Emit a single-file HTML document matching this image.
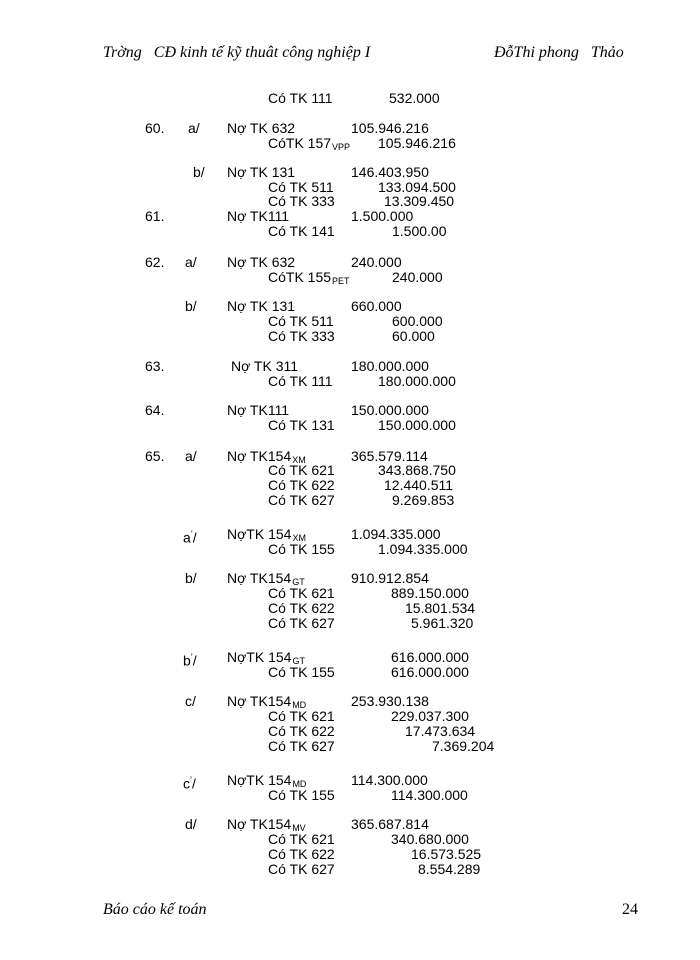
<!DOCTYPE html>
<html><head><meta charset="utf-8"><style>
body{margin:0;width:700px;height:960px;background:#fff;position:relative;overflow:hidden;font-family:"Liberation Sans",sans-serif;font-size:14px;color:#000}
span{position:absolute;line-height:16px;white-space:nowrap}
.h{font-family:"Liberation Serif",serif;font-style:italic;font-size:16px;line-height:18px}
sub{font-size:9px;vertical-align:-2px;margin-left:1px}
</style></head><body>
<span class="h" style="left:103px;top:44px">Trờng &nbsp; CĐ kinh tế kỹ thuât công nghiệp I</span>
<span class="h" style="left:494px;top:44px">ĐỗThi phong &nbsp; Thảo</span>

<span style="left:268px;top:90px">Có TK 111</span><span style="left:389px;top:90px">532.000</span>

<span style="left:145px;top:120px">60.</span><span style="left:188px;top:120px">a/</span><span style="left:227px;top:120px">Nợ TK 632</span><span style="left:351px;top:120px">105.946.216</span>
<span style="left:268px;top:135px">CóTK 157<sub>VPP</sub></span><span style="left:378px;top:135px">105.946.216</span>

<span style="left:193px;top:164px">b/</span><span style="left:227px;top:164px">Nợ TK 131</span><span style="left:351px;top:164px">146.403.950</span>
<span style="left:268px;top:179px">Có TK 511</span><span style="left:378px;top:179px">133.094.500</span>
<span style="left:268px;top:193px">Có TK 333</span><span style="left:384px;top:193px">13.309.450</span>
<span style="left:145px;top:208px">61.</span><span style="left:227px;top:208px">Nợ TK111</span><span style="left:351px;top:208px">1.500.000</span>
<span style="left:268px;top:223px">Có TK 141</span><span style="left:392px;top:223px">1.500.00</span>

<span style="left:145px;top:254px">62.</span><span style="left:185px;top:254px">a/</span><span style="left:227px;top:254px">Nợ TK 632</span><span style="left:351px;top:254px">240.000</span>
<span style="left:268px;top:269px">CóTK 155<sub>PET</sub></span><span style="left:392px;top:269px">240.000</span>

<span style="left:185px;top:298px">b/</span><span style="left:227px;top:298px">Nợ TK 131</span><span style="left:351px;top:298px">660.000</span>
<span style="left:268px;top:313px">Có TK 511</span><span style="left:392px;top:313px">600.000</span>
<span style="left:268px;top:328px">Có TK 333</span><span style="left:392px;top:328px">60.000</span>

<span style="left:145px;top:358px">63.</span><span style="left:231px;top:358px">Nợ TK 311</span><span style="left:351px;top:358px">180.000.000</span>
<span style="left:268px;top:373px">Có TK 111</span><span style="left:378px;top:373px">180.000.000</span>

<span style="left:145px;top:402px">64.</span><span style="left:227px;top:402px">Nợ TK111</span><span style="left:351px;top:402px">150.000.000</span>
<span style="left:268px;top:417px">Có TK 131</span><span style="left:378px;top:417px">150.000.000</span>

<span style="left:145px;top:448px">65.</span><span style="left:185px;top:448px">a/</span><span style="left:227px;top:448px">Nợ TK154<sub>XM</sub></span><span style="left:351px;top:448px">365.579.114</span>
<span style="left:268px;top:462px">Có TK 621</span><span style="left:378px;top:462px">343.868.750</span>
<span style="left:268px;top:477px">Có TK 622</span><span style="left:384px;top:477px">12.440.511</span>
<span style="left:268px;top:492px">Có TK 627</span><span style="left:392px;top:492px">9.269.853</span>

<span style="left:183px;top:526px">a<sup style="font-size:9px">’</sup>/</span><span style="left:227px;top:526px">NợTK 154<sub>XM</sub></span><span style="left:351px;top:526px">1.094.335.000</span>
<span style="left:268px;top:541px">Có TK 155</span><span style="left:378px;top:541px">1.094.335.000</span>

<span style="left:185px;top:570px">b/</span><span style="left:227px;top:570px">Nợ TK154<sub>GT</sub></span><span style="left:351px;top:570px">910.912.854</span>
<span style="left:268px;top:585px">Có TK 621</span><span style="left:391px;top:585px">889.150.000</span>
<span style="left:268px;top:600px">Có TK 622</span><span style="left:405px;top:600px">15.801.534</span>
<span style="left:268px;top:615px">Có TK 627</span><span style="left:411px;top:615px">5.961.320</span>

<span style="left:183px;top:649px">b<sup style="font-size:9px">’</sup>/</span><span style="left:227px;top:649px">NợTK 154<sub>GT</sub></span><span style="left:391px;top:649px">616.000.000</span>
<span style="left:268px;top:664px">Có TK 155</span><span style="left:391px;top:664px">616.000.000</span>

<span style="left:185px;top:693px">c/</span><span style="left:227px;top:693px">Nợ TK154<sub>MD</sub></span><span style="left:351px;top:693px">253.930.138</span>
<span style="left:268px;top:708px">Có TK 621</span><span style="left:391px;top:708px">229.037.300</span>
<span style="left:268px;top:723px">Có TK 622</span><span style="left:405px;top:723px">17.473.634</span>
<span style="left:268px;top:738px">Có TK 627</span><span style="left:432px;top:738px">7.369.204</span>

<span style="left:183px;top:772px">c<sup style="font-size:9px">’</sup>/</span><span style="left:227px;top:772px">NợTK 154<sub>MD</sub></span><span style="left:351px;top:772px">114.300.000</span>
<span style="left:268px;top:787px">Có TK 155</span><span style="left:391px;top:787px">114.300.000</span>

<span style="left:185px;top:816px">d/</span><span style="left:227px;top:816px">Nợ TK154<sub>MV</sub></span><span style="left:351px;top:816px">365.687.814</span>
<span style="left:268px;top:831px">Có TK 621</span><span style="left:391px;top:831px">340.680.000</span>
<span style="left:268px;top:846px">Có TK 622</span><span style="left:411px;top:846px">16.573.525</span>
<span style="left:268px;top:861px">Có TK 627</span><span style="left:418px;top:861px">8.554.289</span>

<span class="h" style="left:103px;top:901px">Báo cáo kế toán</span>
<span class="h" style="left:622px;top:901px;font-style:normal">24</span>
</body></html>
